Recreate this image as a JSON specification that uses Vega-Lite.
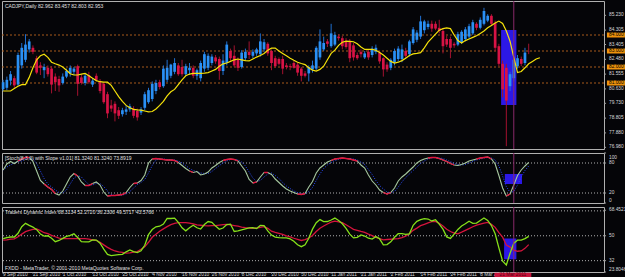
{
"$schema": "https://vega.github.io/schema/vega-lite/v6.json",
"background": "#050508",
"padding": 0,
"spacing": 2,
"config": {
 "view": {"stroke": "#b0b0b0", "strokeWidth": 1},
 "text": {"font": "Liberation Sans"}
},
"data": {"values": [
{"i":0,"o":80.62,"h":81.2,"l":80.5,"c":81.05,"m":80.5,"s":66,"r":null,"g":66,"tg":48,"tr":46.8},
{"i":1,"o":80.7,"h":81.4,"l":80.55,"c":81.2,"m":80.5,"s":78,"r":null,"g":72,"tg":48.7,"tr":47.1},
{"i":2,"o":81.15,"h":81.75,"l":80.85,"c":81.55,"m":80.5,"s":83,"r":null,"g":76,"tg":49.1,"tr":47.5},
{"i":3,"o":81.3,"h":81.45,"l":80.7,"c":80.85,"m":80.65,"s":79,"r":null,"g":80,"tg":49.1,"tr":47.8},
{"i":4,"o":80.9,"h":82.9,"l":80.8,"c":82.75,"m":80.8,"s":84,"r":84,"g":82,"tg":51.8,"tr":49.3},
{"i":5,"o":82.1,"h":83.5,"l":81.9,"c":83.2,"m":80.9,"s":88,"r":88,"g":84,"tg":56.5,"tr":51.2},
{"i":6,"o":82.45,"h":84.05,"l":82.3,"c":83.4,"m":80.9,"s":91,"r":91,"g":88,"tg":59,"tr":53},
{"i":7,"o":83.1,"h":83.75,"l":82.9,"c":83.6,"m":81.35,"s":91,"r":91,"g":90,"tg":57.5,"tr":53.9},
{"i":8,"o":83.2,"h":83.35,"l":82.8,"c":82.95,"m":81.95,"s":83,"r":null,"g":88,"tg":56.3,"tr":54.6},
{"i":9,"o":82.55,"h":82.7,"l":81.55,"c":81.65,"m":82.45,"s":64,"r":null,"g":79,"tg":54.4,"tr":54.9},
{"i":10,"o":82.1,"h":82.3,"l":81.5,"c":81.95,"m":82.7,"s":45,"r":null,"g":64,"tg":51.3,"tr":53.7},
{"i":11,"o":81.8,"h":82.2,"l":81.3,"c":82,"m":82.8,"s":38,"r":38,"g":49,"tg":49.8,"tr":52.2},
{"i":12,"o":81.95,"h":82.1,"l":81.4,"c":81.55,"m":82.6,"s":32,"r":32,"g":38,"tg":50,"tr":51.6},
{"i":13,"o":81.9,"h":82.05,"l":80.35,"c":80.9,"m":82.3,"s":27,"r":27,"g":32,"tg":48.2,"tr":50.3},
{"i":14,"o":81.4,"h":81.6,"l":80.5,"c":81.05,"m":82.2,"s":19,"r":19,"g":26,"tg":45.7,"tr":49.3},
{"i":15,"o":81.25,"h":81.45,"l":80.45,"c":80.85,"m":82.12,"s":16,"r":null,"g":21,"tg":46.6,"tr":48.3},
{"i":16,"o":81,"h":81.6,"l":80.9,"c":81.4,"m":82,"s":24,"r":null,"g":20,"tg":48.1,"tr":47.9},
{"i":17,"o":81.4,"h":81.9,"l":81.3,"c":81.75,"m":81.8,"s":38,"r":null,"g":26,"tg":49.5,"tr":47.9},
{"i":18,"o":81.6,"h":82.1,"l":81.4,"c":81.95,"m":81.58,"s":52,"r":null,"g":38,"tg":50.3,"tr":47.9},
{"i":19,"o":81.7,"h":82,"l":81.5,"c":81.9,"m":81.5,"s":59,"r":59,"g":50,"tg":51.4,"tr":47.9},
{"i":20,"o":82.05,"h":82.15,"l":80.2,"c":80.95,"m":81.5,"s":54,"r":54,"g":55,"tg":48.8,"tr":47.9},
{"i":21,"o":81.35,"h":81.55,"l":80.9,"c":81,"m":81.55,"s":42,"r":null,"g":52,"tg":45.8,"tr":47.9},
{"i":22,"o":81,"h":81.6,"l":80.85,"c":81.45,"m":81.6,"s":35,"r":35,"g":44,"tg":45.6,"tr":47.9},
{"i":23,"o":81.5,"h":81.7,"l":80.95,"c":81.05,"m":81.45,"s":35,"r":35,"g":37,"tg":45.6,"tr":47.6},
{"i":24,"o":80.9,"h":81.3,"l":80.75,"c":81.15,"m":81.3,"s":39,"r":39,"g":36,"tg":47,"tr":47.1},
{"i":25,"o":81.45,"h":81.6,"l":81.1,"c":81.2,"m":81.15,"s":42,"r":null,"g":39,"tg":46.9,"tr":46.6},
{"i":26,"o":81.1,"h":81.25,"l":80.35,"c":80.5,"m":81.08,"s":36,"r":null,"g":39,"tg":44.6,"tr":45.3},
{"i":27,"o":80.95,"h":81.05,"l":79.7,"c":79.8,"m":81.06,"s":22,"r":null,"g":33,"tg":40.4,"tr":43.4},
{"i":28,"o":80.3,"h":80.45,"l":78.8,"c":79.1,"m":81.05,"s":14,"r":14,"g":24,"tg":36.5,"tr":41.6},
{"i":29,"o":79.6,"h":79.95,"l":79.2,"c":79.4,"m":80.85,"s":15,"r":15,"g":17,"tg":35.6,"tr":40.2},
{"i":30,"o":79.7,"h":79.85,"l":78.6,"c":79.1,"m":80.5,"s":15,"r":15,"g":15,"tg":36,"tr":39},
{"i":31,"o":79.3,"h":79.5,"l":78.75,"c":78.95,"m":80.15,"s":16,"r":16,"g":15,"tg":36.3,"tr":38.4},
{"i":32,"o":79.05,"h":79.45,"l":78.9,"c":79.3,"m":79.85,"s":17,"r":17,"g":16,"tg":36.6,"tr":38},
{"i":33,"o":79.2,"h":79.6,"l":79,"c":79.35,"m":79.6,"s":21,"r":21,"g":18,"tg":38.4,"tr":37.5},
{"i":34,"o":79.35,"h":79.7,"l":79.2,"c":79.55,"m":79.45,"s":31,"r":null,"g":23,"tg":39.8,"tr":37.7},
{"i":35,"o":79.4,"h":79.55,"l":78.8,"c":78.95,"m":79.35,"s":39,"r":39,"g":30,"tg":38.6,"tr":38.2},
{"i":36,"o":79.25,"h":79.4,"l":78.65,"c":78.85,"m":79.32,"s":40,"r":40,"g":37,"tg":37.8,"tr":38.6},
{"i":37,"o":79.15,"h":79.5,"l":79,"c":79.35,"m":79.3,"s":45,"r":null,"g":41,"tg":39.2,"tr":40.3},
{"i":38,"o":79.45,"h":80.45,"l":79.3,"c":80.3,"m":79.25,"s":56,"r":null,"g":47,"tg":43.1,"tr":42},
{"i":39,"o":79.8,"h":80.7,"l":79.7,"c":80.55,"m":79.2,"s":80,"r":null,"g":60,"tg":50.8,"tr":45.3},
{"i":40,"o":80,"h":81.1,"l":79.85,"c":80.95,"m":79.22,"s":88,"r":88,"g":75,"tg":54.5,"tr":48.9},
{"i":41,"o":80.5,"h":81.2,"l":80.3,"c":81,"m":79.38,"s":89,"r":89,"g":86,"tg":56.5,"tr":51.1},
{"i":42,"o":81.05,"h":81.2,"l":80.6,"c":80.75,"m":79.6,"s":88,"r":88,"g":88,"tg":56.9,"tr":53.3},
{"i":43,"o":80.8,"h":82.1,"l":80.7,"c":81.9,"m":79.85,"s":87,"r":87,"g":88,"tg":58.5,"tr":55},
{"i":44,"o":81.2,"h":82.45,"l":81.05,"c":81.95,"m":80.2,"s":86,"r":86,"g":87,"tg":62.6,"tr":56.6},
{"i":45,"o":81.45,"h":82.2,"l":81.3,"c":82.15,"m":80.45,"s":86,"r":86,"g":86,"tg":62.5,"tr":58},
{"i":46,"o":81.7,"h":82.55,"l":81.55,"c":82.25,"m":80.6,"s":85,"r":85,"g":86,"tg":62.8,"tr":58.9},
{"i":47,"o":82.1,"h":82.25,"l":81.45,"c":81.55,"m":80.9,"s":81,"r":81,"g":84,"tg":59.7,"tr":59.5},
{"i":48,"o":82,"h":82.45,"l":81.4,"c":81.55,"m":81.2,"s":75,"r":null,"g":80,"tg":55.8,"tr":59.5},
{"i":49,"o":81.55,"h":82.2,"l":81.45,"c":82.05,"m":81.45,"s":69,"r":null,"g":75,"tg":53.6,"tr":59.5},
{"i":50,"o":81.8,"h":82.25,"l":81.5,"c":81.95,"m":81.56,"s":64,"r":64,"g":69,"tg":55.8,"tr":59.2},
{"i":51,"o":81.95,"h":82.1,"l":81.3,"c":81.45,"m":81.6,"s":61,"r":61,"g":65,"tg":57.6,"tr":58.6},
{"i":52,"o":81.45,"h":81.9,"l":81.2,"c":81.8,"m":81.6,"s":63,"r":null,"g":63,"tg":55.8,"tr":57.9},
{"i":53,"o":81.3,"h":82.4,"l":81.1,"c":82.25,"m":81.6,"s":56,"r":null,"g":60,"tg":54.9,"tr":57.6},
{"i":54,"o":81.9,"h":82.95,"l":81.7,"c":82.8,"m":81.62,"s":58,"r":null,"g":59,"tg":58.1,"tr":57.3},
{"i":55,"o":81.95,"h":82.85,"l":81.8,"c":82.7,"m":81.65,"s":62,"r":null,"g":59,"tg":60.3,"tr":57.2},
{"i":56,"o":82.25,"h":82.8,"l":82.1,"c":82.65,"m":81.75,"s":70,"r":null,"g":63,"tg":59.7,"tr":57.3},
{"i":57,"o":82.6,"h":82.75,"l":82.2,"c":82.35,"m":81.85,"s":75,"r":null,"g":69,"tg":57,"tr":57.4},
{"i":58,"o":82.5,"h":82.65,"l":81.2,"c":81.75,"m":82.05,"s":81,"r":null,"g":75,"tg":54.7,"tr":57.7},
{"i":59,"o":81.75,"h":82.8,"l":81.5,"c":82.4,"m":82.2,"s":85,"r":85,"g":80,"tg":55.6,"tr":58},
{"i":60,"o":82.25,"h":83.6,"l":82.1,"c":83.4,"m":82.25,"s":87,"r":87,"g":84,"tg":58.1,"tr":58.2},
{"i":61,"o":83,"h":83.15,"l":82.4,"c":82.55,"m":82.35,"s":88,"r":88,"g":87,"tg":58.4,"tr":57.8},
{"i":62,"o":82.7,"h":83.35,"l":82,"c":82.1,"m":82.45,"s":87,"r":87,"g":87,"tg":53.1,"tr":57.4},
{"i":63,"o":82.45,"h":82.6,"l":81.75,"c":81.95,"m":82.5,"s":84,"r":84,"g":86,"tg":53.5,"tr":56.9},
{"i":64,"o":82,"h":83.05,"l":81.9,"c":82.9,"m":82.45,"s":74,"r":null,"g":82,"tg":54.3,"tr":56.3},
{"i":65,"o":82.55,"h":83.15,"l":82.4,"c":82.95,"m":82.4,"s":64,"r":null,"g":74,"tg":55,"tr":55.9},
{"i":66,"o":82.95,"h":83.6,"l":82.5,"c":82.75,"m":82.38,"s":47,"r":null,"g":62,"tg":55.7,"tr":55.6},
{"i":67,"o":82.7,"h":83.1,"l":82.55,"c":82.95,"m":82.5,"s":40,"r":40,"g":50,"tg":55.8,"tr":55.4},
{"i":68,"o":82.85,"h":83.2,"l":82.7,"c":83.1,"m":82.62,"s":42,"r":42,"g":43,"tg":55.3,"tr":55.5},
{"i":69,"o":82.8,"h":84.1,"l":82.65,"c":83.6,"m":82.72,"s":52,"r":null,"g":45,"tg":57.5,"tr":56},
{"i":70,"o":83.1,"h":83.75,"l":82.95,"c":83.55,"m":82.85,"s":61,"r":61,"g":52,"tg":57.4,"tr":56.6},
{"i":71,"o":83.45,"h":83.55,"l":82.7,"c":82.85,"m":83.05,"s":61,"r":61,"g":58,"tg":53.5,"tr":55.4},
{"i":72,"o":83,"h":83.1,"l":81.8,"c":82.25,"m":83.18,"s":57,"r":null,"g":60,"tg":50.5,"tr":53.3},
{"i":73,"o":82.55,"h":82.7,"l":81.95,"c":82.05,"m":83.18,"s":48,"r":null,"g":55,"tg":49,"tr":52.4},
{"i":74,"o":82.5,"h":82.6,"l":82.1,"c":82.2,"m":83,"s":41,"r":null,"g":49,"tg":48.7,"tr":51.8},
{"i":75,"o":82.5,"h":82.7,"l":81.55,"c":81.9,"m":82.85,"s":34,"r":null,"g":41,"tg":48.5,"tr":51},
{"i":76,"o":82.1,"h":82.25,"l":81.85,"c":82,"m":82.7,"s":28,"r":null,"g":34,"tg":48.5,"tr":50},
{"i":77,"o":82.05,"h":82.2,"l":81.8,"c":82,"m":82.55,"s":24,"r":null,"g":29,"tg":47.7,"tr":49.2},
{"i":78,"o":82.25,"h":82.4,"l":81.9,"c":81.95,"m":82.42,"s":21,"r":null,"g":24,"tg":46,"tr":48.2},
{"i":79,"o":82.15,"h":82.25,"l":81.45,"c":81.65,"m":82.3,"s":18,"r":18,"g":21,"tg":43.5,"tr":47.4},
{"i":80,"o":81.9,"h":82,"l":81.1,"c":81.45,"m":82.22,"s":17,"r":17,"g":19,"tg":42.1,"tr":46.6},
{"i":81,"o":81.6,"h":81.75,"l":81.35,"c":81.45,"m":82.15,"s":19,"r":19,"g":18,"tg":43.5,"tr":47.2},
{"i":82,"o":81.6,"h":82.1,"l":81.1,"c":82,"m":81.95,"s":32,"r":null,"g":23,"tg":48.2,"tr":48.4},
{"i":83,"o":81.85,"h":82.4,"l":81.65,"c":82.1,"m":81.8,"s":43,"r":null,"g":31,"tg":54.8,"tr":50.2},
{"i":84,"o":81.9,"h":83.3,"l":81.8,"c":83.2,"m":81.75,"s":60,"r":null,"g":45,"tg":59.5,"tr":53.1},
{"i":85,"o":82.6,"h":84.35,"l":82.45,"c":83.6,"m":81.85,"s":70,"r":null,"g":58,"tg":61.7,"tr":55.4},
{"i":86,"o":83.1,"h":83.9,"l":83,"c":83.5,"m":82.05,"s":76,"r":null,"g":69,"tg":60.2,"tr":57.1},
{"i":87,"o":83.6,"h":83.75,"l":83.25,"c":83.45,"m":82.45,"s":82,"r":null,"g":76,"tg":60.3,"tr":58.5},
{"i":88,"o":83.3,"h":84.7,"l":83.2,"c":84.1,"m":82.85,"s":85,"r":85,"g":81,"tg":61.4,"tr":59.8},
{"i":89,"o":83.4,"h":84.2,"l":83.3,"c":84,"m":83.05,"s":88,"r":88,"g":85,"tg":62.8,"tr":60.6},
{"i":90,"o":83.9,"h":84.05,"l":83.65,"c":83.8,"m":83.35,"s":89,"r":89,"g":87,"tg":61,"tr":60.1},
{"i":91,"o":83.8,"h":83.95,"l":83.1,"c":83.3,"m":83.55,"s":90,"r":90,"g":89,"tg":58.7,"tr":59.5},
{"i":92,"o":83.6,"h":83.8,"l":83.15,"c":83.25,"m":83.62,"s":89,"r":89,"g":89,"tg":55.4,"tr":58},
{"i":93,"o":83.6,"h":83.75,"l":82.3,"c":82.55,"m":83.6,"s":88,"r":88,"g":89,"tg":51.2,"tr":56.3},
{"i":94,"o":83.35,"h":83.5,"l":82.4,"c":82.6,"m":83.58,"s":86,"r":86,"g":88,"tg":48.5,"tr":54.6},
{"i":95,"o":82.75,"h":82.9,"l":82.45,"c":82.55,"m":83.45,"s":84,"r":84,"g":86,"tg":48.9,"tr":53.9},
{"i":96,"o":82.95,"h":83.1,"l":82.6,"c":82.8,"m":83.25,"s":76,"r":null,"g":82,"tg":50.6,"tr":53.1},
{"i":97,"o":82.6,"h":83,"l":82.5,"c":82.85,"m":83.1,"s":70,"r":null,"g":77,"tg":49.8,"tr":52.4},
{"i":98,"o":82.95,"h":83.1,"l":82.45,"c":82.6,"m":83.1,"s":56,"r":null,"g":67,"tg":48.2,"tr":51.2},
{"i":99,"o":82.75,"h":83.3,"l":82.6,"c":83.15,"m":83.1,"s":44,"r":null,"g":57,"tg":47.6,"tr":50.1},
{"i":100,"o":82.95,"h":83.4,"l":82.8,"c":83.2,"m":83.05,"s":36,"r":null,"g":45,"tg":49.4,"tr":48.8},
{"i":101,"o":82.9,"h":83,"l":82.2,"c":82.35,"m":82.9,"s":26,"r":null,"g":35,"tg":47.8,"tr":47.9},
{"i":102,"o":82.55,"h":82.6,"l":81.4,"c":81.85,"m":82.75,"s":21,"r":21,"g":28,"tg":43.4,"tr":47},
{"i":103,"o":82.15,"h":82.3,"l":81.7,"c":81.85,"m":82.55,"s":18,"r":18,"g":22,"tg":43.6,"tr":47.3},
{"i":104,"o":81.95,"h":82.55,"l":81.8,"c":82.45,"m":82.35,"s":21,"r":21,"g":20,"tg":45.6,"tr":47.5},
{"i":105,"o":82.3,"h":83.15,"l":82.1,"c":83,"m":82.25,"s":30,"r":null,"g":23,"tg":48.9,"tr":47.7},
{"i":106,"o":82.5,"h":83.3,"l":82.35,"c":83.15,"m":82.3,"s":44,"r":null,"g":32,"tg":51.5,"tr":47.9},
{"i":107,"o":82.5,"h":83.4,"l":82.3,"c":83.1,"m":82.4,"s":52,"r":null,"g":42,"tg":51.6,"tr":48.7},
{"i":108,"o":83,"h":83.2,"l":82.55,"c":82.7,"m":82.55,"s":58,"r":null,"g":51,"tg":51,"tr":49.7},
{"i":109,"o":82.8,"h":83.7,"l":82.65,"c":83.6,"m":82.72,"s":65,"r":null,"g":58,"tg":51.4,"tr":51.5},
{"i":110,"o":83.5,"h":84.5,"l":83.4,"c":84.35,"m":82.82,"s":72,"r":null,"g":65,"tg":57.6,"tr":53.9},
{"i":111,"o":83.7,"h":84.3,"l":83.55,"c":84.15,"m":82.85,"s":80,"r":null,"g":72,"tg":60.4,"tr":55.5},
{"i":112,"o":83.9,"h":85.2,"l":83.75,"c":84.85,"m":82.9,"s":85,"r":null,"g":79,"tg":61.6,"tr":57.3},
{"i":113,"o":84.3,"h":84.95,"l":84.1,"c":84.85,"m":83.2,"s":88,"r":null,"g":84,"tg":62.4,"tr":58.3},
{"i":114,"o":84.5,"h":84.9,"l":84.35,"c":84.7,"m":83.55,"s":90,"r":90,"g":88,"tg":62.1,"tr":59.3},
{"i":115,"o":84.7,"h":84.9,"l":84.2,"c":84.4,"m":83.8,"s":91,"r":91,"g":90,"tg":60.7,"tr":60.2},
{"i":116,"o":84.7,"h":84.85,"l":84.3,"c":84.4,"m":84.05,"s":91,"r":91,"g":91,"tg":61.6,"tr":60.4},
{"i":117,"o":84.45,"h":84.95,"l":84.1,"c":84.25,"m":84.3,"s":89,"r":89,"g":90,"tg":58.4,"tr":59},
{"i":118,"o":84.25,"h":84.4,"l":82.85,"c":83.3,"m":84.4,"s":86,"r":86,"g":89,"tg":54.8,"tr":57.1},
{"i":119,"o":83.75,"h":83.95,"l":83.25,"c":83.4,"m":84.44,"s":83,"r":83,"g":86,"tg":49.2,"tr":54.7},
{"i":120,"o":83.75,"h":83.9,"l":82.55,"c":83.2,"m":84.4,"s":79,"r":79,"g":83,"tg":48.1,"tr":53.1},
{"i":121,"o":83.45,"h":83.55,"l":83.2,"c":83.35,"m":84,"s":76,"r":76,"g":79,"tg":51.2,"tr":52},
{"i":122,"o":83.4,"h":84.2,"l":83.3,"c":84.05,"m":83.65,"s":75,"r":null,"g":77,"tg":54.6,"tr":51.4},
{"i":123,"o":83.55,"h":84.3,"l":83.45,"c":84.2,"m":83.5,"s":77,"r":null,"g":76,"tg":57.1,"tr":52.6},
{"i":124,"o":83.75,"h":84.5,"l":83.6,"c":84.35,"m":83.65,"s":80,"r":null,"g":77,"tg":58.7,"tr":53.9},
{"i":125,"o":83.9,"h":84.7,"l":83.8,"c":84.55,"m":83.75,"s":84,"r":null,"g":80,"tg":60.5,"tr":55.2},
{"i":126,"o":84.1,"h":84.95,"l":84,"c":84.8,"m":83.85,"s":86,"r":null,"g":83,"tg":59,"tr":56.5},
{"i":127,"o":84.7,"h":84.8,"l":84.3,"c":84.45,"m":83.95,"s":88,"r":88,"g":86,"tg":59.2,"tr":57.7},
{"i":128,"o":84.45,"h":85.1,"l":84.35,"c":84.95,"m":84.1,"s":90,"r":90,"g":88,"tg":61,"tr":58.4},
{"i":129,"o":84.7,"h":85.7,"l":84.6,"c":85.5,"m":84.25,"s":91,"r":91,"g":90,"tg":62.8,"tr":59.1},
{"i":130,"o":84.9,"h":85.3,"l":84.8,"c":85.2,"m":84.45,"s":92,"r":92,"g":91,"tg":61.1,"tr":59.7},
{"i":131,"o":85.2,"h":85.3,"l":84.6,"c":84.7,"m":84.6,"s":88,"r":88,"g":90,"tg":57.4,"tr":58.3},
{"i":132,"o":84.75,"h":84.9,"l":83,"c":83.2,"m":84.75,"s":78,"r":null,"g":86,"tg":51.4,"tr":56.1},
{"i":133,"o":83.3,"h":83.45,"l":82.05,"c":82.2,"m":84.87,"s":55,"r":null,"g":74,"tg":41.2,"tr":52.3},
{"i":134,"o":82.2,"h":82.4,"l":80.1,"c":80.6,"m":84.72,"s":30,"r":null,"g":54,"tg":31.6,"tr":49},
{"i":135,"o":81.95,"h":82.2,"l":77.05,"c":79.9,"m":84.25,"s":14,"r":14,"g":33,"tg":28.9,"tr":43.3},
{"i":136,"o":80.8,"h":81.7,"l":80.5,"c":81.55,"m":83.6,"s":18,"r":18,"g":21,"tg":37.4,"tr":41.8},
{"i":137,"o":81.3,"h":82.55,"l":81.1,"c":82.45,"m":82.6,"s":36,"r":null,"g":23,"tg":44.6,"tr":39.6},
{"i":138,"o":82.05,"h":82.75,"l":81.9,"c":82.55,"m":81.65,"s":55,"r":null,"g":36,"tg":46.8,"tr":38.8},
{"i":139,"o":82.5,"h":82.65,"l":82.05,"c":82.2,"m":81.72,"s":66,"r":null,"g":52,"tg":46.8,"tr":39},
{"i":140,"o":82.25,"h":83.2,"l":82.1,"c":82.9,"m":81.95,"s":74,"r":null,"g":65,"tg":47.9,"tr":40.9},
{"i":141,"o":82.962,"h":83.457,"l":82.803,"c":82.953,"m":82.2,"s":81.324,"r":null,"g":73.892,"tg":49.572,"tr":43.577},
{"i":142,"m":82.35},
{"i":143,"m":82.5},
{"i":144,"m":82.58}
]},
"vconcat": [
{
 "width": 602, "height": 148,
 "layer": [
  {"data": {"values": [{"p":84},{"p":83},{"p":82},{"p":81}]},
   "mark": {"type": "rule", "color": "#a85a1a", "strokeDash": [2,2], "strokeWidth": 1},
   "encoding": {"y": {"field": "p", "type": "quantitative", "scale": {"domain": [76.875, 86.125], "nice": false, "zero": false}, "axis": null}}},
  {"data": {"values": [{"x1": 133.6, "x2": 137.7, "y1": 79.63, "y2": 84.31}]},
   "mark": {"type": "rect", "color": "#2c18e6"},
   "encoding": {"x": {"field": "x1", "type": "quantitative", "scale": {"domain": [-0.3, 161.2], "nice": false, "zero": false}, "axis": null}, "x2": {"field": "x2"},
     "y": {"field": "y1", "type": "quantitative", "scale": {"domain": [76.875, 86.125], "nice": false, "zero": false}, "axis": null}, "y2": {"field": "y2"}}},
  {"mark": {"type": "rule", "strokeWidth": 1},
   "encoding": {"x": {"field": "i", "type": "quantitative", "scale": {"domain": [-0.3, 161.2], "nice": false, "zero": false}, "axis": null},
     "y": {"field": "l", "type": "quantitative", "scale": {"domain": [76.875, 86.125], "nice": false, "zero": false}, "axis": null}, "y2": {"field": "h"},
     "color": {"condition": {"test": "datum.c >= datum.o", "value": "#2070d0"}, "value": "#a3122f"}}},
  {"mark": {"type": "rule", "strokeWidth": 2.7},
   "encoding": {"x": {"field": "i", "type": "quantitative", "scale": {"domain": [-0.3, 161.2], "nice": false, "zero": false}, "axis": null},
     "y": {"field": "o", "type": "quantitative", "scale": {"domain": [76.875, 86.125], "nice": false, "zero": false}, "axis": null}, "y2": {"field": "c"},
     "color": {"condition": {"test": "datum.c >= datum.o", "value": "#2a90f5"}, "value": "#d81345"}}},
  {"mark": {"type": "line", "color": "#f5e20a", "strokeWidth": 1.2},
   "encoding": {"x": {"field": "i", "type": "quantitative", "scale": {"domain": [-0.3, 161.2], "nice": false, "zero": false}, "axis": null},
     "y": {"field": "m", "type": "quantitative", "scale": {"domain": [76.875, 86.125], "nice": false, "zero": false}, "axis": null}}},
  {"data": {"values": [{}]},
   "mark": {"type": "rule", "color": "#8a2a6a", "strokeWidth": 1},
   "encoding": {"x": {"datum": 137, "type": "quantitative", "scale": {"domain": [-0.3, 161.2], "nice": false, "zero": false}, "axis": null}}},
  {"data": {"values": [{"p":84},{"p":83},{"p":82},{"p":81}]},
   "mark": {"type": "tick", "orient": "horizontal", "size": 18, "thickness": 5, "color": "#ee920c", "opacity": 1},
   "encoding": {"x": {"datum": 164.4, "type": "quantitative", "scale": {"domain": [-0.3, 161.2], "nice": false, "zero": false}, "axis": null},
     "y": {"field": "p", "type": "quantitative", "scale": {"domain": [76.875, 86.125], "nice": false, "zero": false}, "axis": null}}},
  {"data": {"values": [{"p":84},{"p":83},{"p":82},{"p":81}]},
   "mark": {"type": "text", "align": "left", "baseline": "middle", "fontSize": 4.8, "color": "#000000"},
   "encoding": {"x": {"datum": 162.55, "type": "quantitative", "scale": {"domain": [-0.3, 161.2], "nice": false, "zero": false}, "axis": null},
     "y": {"field": "p", "type": "quantitative", "scale": {"domain": [76.875, 86.125], "nice": false, "zero": false}, "axis": null},
     "text": {"field": "p", "format": ".3f"}}},
  {"data": {"values": [{"v":85.23},{"v":84.305},{"v":83.405},{"v":82.48},{"v":81.555},{"v":80.63},{"v":79.73},{"v":78.805},{"v":77.88},{"v":76.98}]},
   "mark": {"type": "rule", "color": "#a0a0a0", "strokeWidth": 1},
   "encoding": {"x": {"datum": 161.2, "type": "quantitative", "scale": {"domain": [-0.3, 161.2], "nice": false, "zero": false}, "axis": null}, "x2": {"datum": 161.75},
     "y": {"field": "v", "type": "quantitative", "scale": {"domain": [76.875, 86.125], "nice": false, "zero": false}, "axis": null}}},
  {"data": {"values": [{"v":85.23},{"v":84.305},{"v":83.405},{"v":82.48},{"v":81.555},{"v":80.63},{"v":79.73},{"v":78.805},{"v":77.88},{"v":76.98}]},
   "mark": {"type": "text", "align": "left", "baseline": "middle", "fontSize": 4.8, "color": "#d8d8d8"},
   "encoding": {"x": {"datum": 162.55, "type": "quantitative", "scale": {"domain": [-0.3, 161.2], "nice": false, "zero": false}, "axis": null},
     "y": {"field": "v", "type": "quantitative", "scale": {"domain": [76.875, 86.125], "nice": false, "zero": false}, "axis": null},
     "text": {"field": "v", "format": ".3f"}}},
  {"data": {"values": [{}]},
   "mark": {"type": "text", "align": "left", "baseline": "middle", "fontSize": 5, "color": "#e0e0e0"},
   "encoding": {"x": {"datum": 0.5, "type": "quantitative", "scale": {"domain": [-0.3, 161.2], "nice": false, "zero": false}, "axis": null},
     "y": {"datum": 85.81, "type": "quantitative", "scale": {"domain": [76.875, 86.125], "nice": false, "zero": false}, "axis": null},
     "text": {"value": "CADJPY,Daily  82.962 83.457 82.803 82.953"}}}
 ]
},
{
 "width": 602, "height": 50,
 "layer": [
  {"data": {"values": [{"v":80},{"v":20}]},
   "mark": {"type": "rule", "color": "#b0b0b0", "strokeDash": [1,2], "strokeWidth": 1},
   "encoding": {"y": {"field": "v", "type": "quantitative", "scale": {"domain": [0, 100], "nice": false, "zero": false}, "axis": null}}},
  {"data": {"values": [{"x1": 134.6, "x2": 139.2, "y1": 38, "y2": 58}]},
   "mark": {"type": "rect", "color": "#2c18e6"},
   "encoding": {"x": {"field": "x1", "type": "quantitative", "scale": {"domain": [-0.3, 161.2], "nice": false, "zero": false}, "axis": null}, "x2": {"field": "x2"},
     "y": {"field": "y1", "type": "quantitative", "scale": {"domain": [0, 100], "nice": false, "zero": false}, "axis": null}, "y2": {"field": "y2"}}},
  {"mark": {"type": "line", "color": "#2a4dff", "strokeWidth": 1, "strokeDash": [1, 1.5]},
   "encoding": {"x": {"field": "i", "type": "quantitative", "scale": {"domain": [-0.3, 161.2], "nice": false, "zero": false}, "axis": null},
     "y": {"field": "g", "type": "quantitative", "scale": {"domain": [0, 100], "nice": false, "zero": false}, "axis": null}}},
  {"mark": {"type": "line", "color": "#a6c8a0", "strokeWidth": 1.1},
   "encoding": {"x": {"field": "i", "type": "quantitative", "scale": {"domain": [-0.3, 161.2], "nice": false, "zero": false}, "axis": null},
     "y": {"field": "s", "type": "quantitative", "scale": {"domain": [0, 100], "nice": false, "zero": false}, "axis": null}}},
  {"mark": {"type": "line", "color": "#e3143e", "strokeWidth": 1.3, "invalid": "break-paths-filter-domains"},
   "encoding": {"x": {"field": "i", "type": "quantitative", "scale": {"domain": [-0.3, 161.2], "nice": false, "zero": false}, "axis": null},
     "y": {"field": "r", "type": "quantitative", "scale": {"domain": [0, 100], "nice": false, "zero": false}, "axis": null}}},
  {"data": {"values": [{}]},
   "mark": {"type": "rule", "color": "#8a2a6a", "strokeWidth": 1},
   "encoding": {"x": {"datum": 137, "type": "quantitative", "scale": {"domain": [-0.3, 161.2], "nice": false, "zero": false}, "axis": null}}},
  {"data": {"values": [{"v":100},{"v":80},{"v":20},{"v":0}]},
   "mark": {"type": "rule", "color": "#a0a0a0", "strokeWidth": 1},
   "encoding": {"x": {"datum": 161.2, "type": "quantitative", "scale": {"domain": [-0.3, 161.2], "nice": false, "zero": false}, "axis": null}, "x2": {"datum": 161.75},
     "y": {"field": "v", "type": "quantitative", "scale": {"domain": [0, 100], "nice": false, "zero": false}, "axis": null}}},
  {"data": {"values": [{"v":80},{"v":20}]},
   "mark": {"type": "text", "align": "left", "baseline": "middle", "fontSize": 4.8, "color": "#d8d8d8"},
   "encoding": {"x": {"datum": 162.55, "type": "quantitative", "scale": {"domain": [-0.3, 161.2], "nice": false, "zero": false}, "axis": null},
     "y": {"field": "v", "type": "quantitative", "scale": {"domain": [0, 100], "nice": false, "zero": false}, "axis": null}, "text": {"field": "v"}}},
  {"data": {"values": [{"v":100}]},
   "mark": {"type": "text", "align": "left", "baseline": "top", "dy": 1.5, "fontSize": 4.8, "color": "#d8d8d8"},
   "encoding": {"x": {"datum": 162.55, "type": "quantitative", "scale": {"domain": [-0.3, 161.2], "nice": false, "zero": false}, "axis": null},
     "y": {"field": "v", "type": "quantitative", "scale": {"domain": [0, 100], "nice": false, "zero": false}, "axis": null}, "text": {"field": "v"}}},
  {"data": {"values": [{"v":0}]},
   "mark": {"type": "text", "align": "left", "baseline": "bottom", "dy": -0.5, "fontSize": 4.8, "color": "#d8d8d8"},
   "encoding": {"x": {"datum": 162.55, "type": "quantitative", "scale": {"domain": [-0.3, 161.2], "nice": false, "zero": false}, "axis": null},
     "y": {"field": "v", "type": "quantitative", "scale": {"domain": [0, 100], "nice": false, "zero": false}, "axis": null}, "text": {"field": "v"}}},
  {"data": {"values": [{}]},
   "mark": {"type": "text", "align": "left", "baseline": "middle", "fontSize": 5, "color": "#e0e0e0"},
   "encoding": {"x": {"datum": 0.5, "type": "quantitative", "scale": {"domain": [-0.3, 161.2], "nice": false, "zero": false}, "axis": null},
     "y": {"datum": 91, "type": "quantitative", "scale": {"domain": [0, 100], "nice": false, "zero": false}, "axis": null},
     "text": {"value": "[Stoch(8,3,3) with Slope v1.01] 81.3240 81.3240 73.8919"}}}
 ]
},
{
 "width": 602, "height": 65,
 "layer": [
  {"data": {"values": [{"v":68},{"v":50},{"v":32}]},
   "mark": {"type": "rule", "color": "#b0b0b0", "strokeDash": [1,2], "strokeWidth": 1},
   "encoding": {"y": {"field": "v", "type": "quantitative", "scale": {"domain": [23.8046, 70.8], "nice": false, "zero": false}, "axis": null}}},
  {"data": {"values": [{"x1": 134.4, "x2": 137.7, "y1": 33.1, "y2": 48}]},
   "mark": {"type": "rect", "color": "#2c18e6"},
   "encoding": {"x": {"field": "x1", "type": "quantitative", "scale": {"domain": [-0.3, 161.2], "nice": false, "zero": false}, "axis": null}, "x2": {"field": "x2"},
     "y": {"field": "y1", "type": "quantitative", "scale": {"domain": [23.8046, 70.8], "nice": false, "zero": false}, "axis": null}, "y2": {"field": "y2"}}},
  {"mark": {"type": "line", "color": "#d4143c", "strokeWidth": 1.3},
   "encoding": {"x": {"field": "i", "type": "quantitative", "scale": {"domain": [-0.3, 161.2], "nice": false, "zero": false}, "axis": null},
     "y": {"field": "tr", "type": "quantitative", "scale": {"domain": [23.8046, 70.8], "nice": false, "zero": false}, "axis": null}}},
  {"mark": {"type": "line", "color": "#86e01a", "strokeWidth": 1.3},
   "encoding": {"x": {"field": "i", "type": "quantitative", "scale": {"domain": [-0.3, 161.2], "nice": false, "zero": false}, "axis": null},
     "y": {"field": "tg", "type": "quantitative", "scale": {"domain": [23.8046, 70.8], "nice": false, "zero": false}, "axis": null}}},
  {"data": {"values": [{}]},
   "mark": {"type": "rule", "color": "#8a2a6a", "strokeWidth": 1},
   "encoding": {"x": {"datum": 137, "type": "quantitative", "scale": {"domain": [-0.3, 161.2], "nice": false, "zero": false}, "axis": null}}},
  {"data": {"values": [{"v":68.4521},{"v":50},{"v":32},{"v":23.8046}]},
   "mark": {"type": "rule", "color": "#a0a0a0", "strokeWidth": 1},
   "encoding": {"x": {"datum": 161.2, "type": "quantitative", "scale": {"domain": [-0.3, 161.2], "nice": false, "zero": false}, "axis": null}, "x2": {"datum": 161.75},
     "y": {"field": "v", "type": "quantitative", "scale": {"domain": [23.8046, 70.8], "nice": false, "zero": false}, "axis": null}}},
  {"data": {"values": [{"v":68.4521},{"v":50},{"v":32}]},
   "mark": {"type": "text", "align": "left", "baseline": "middle", "fontSize": 4.8, "color": "#d8d8d8"},
   "encoding": {"x": {"datum": 162.55, "type": "quantitative", "scale": {"domain": [-0.3, 161.2], "nice": false, "zero": false}, "axis": null},
     "y": {"field": "v", "type": "quantitative", "scale": {"domain": [23.8046, 70.8], "nice": false, "zero": false}, "axis": null}, "text": {"field": "v"}}},
  {"data": {"values": [{"v":23.8046}]},
   "mark": {"type": "text", "align": "left", "baseline": "bottom", "dy": -0.5, "fontSize": 4.8, "color": "#d8d8d8"},
   "encoding": {"x": {"datum": 162.55, "type": "quantitative", "scale": {"domain": [-0.3, 161.2], "nice": false, "zero": false}, "axis": null},
     "y": {"field": "v", "type": "quantitative", "scale": {"domain": [23.8046, 70.8], "nice": false, "zero": false}, "axis": null}, "text": {"field": "v"}}},
  {"data": {"values": [{}]},
   "mark": {"type": "text", "align": "left", "baseline": "middle", "fontSize": 5, "color": "#e0e0e0"},
   "encoding": {"x": {"datum": 0.5, "type": "quantitative", "scale": {"domain": [-0.3, 161.2], "nice": false, "zero": false}, "axis": null},
     "y": {"datum": 67.2, "type": "quantitative", "scale": {"domain": [23.8046, 70.8], "nice": false, "zero": false}, "axis": null},
     "text": {"value": "Traders Dynamic Index 68.3134 52.2720 36.2306 49.5717 43.5766"}}},
  {"data": {"values": [{}]},
   "mark": {"type": "text", "align": "left", "baseline": "middle", "fontSize": 5, "color": "#e0e0e0"},
   "encoding": {"x": {"datum": 0.5, "type": "quantitative", "scale": {"domain": [-0.3, 161.2], "nice": false, "zero": false}, "axis": null},
     "y": {"datum": 26.7, "type": "quantitative", "scale": {"domain": [23.8046, 70.8], "nice": false, "zero": false}, "axis": null},
     "text": {"value": "FXDD - MetaTrader, © 2001-2010 MetaQuotes Software Corp."}}},
  {"data": {"values": [{"d":0},{"d":8},{"d":16},{"d":24},{"d":32},{"d":40},{"d":48},{"d":56},{"d":64},{"d":72},{"d":80},{"d":88},{"d":96},{"d":104},{"d":112},{"d":120},{"d":128}]},
   "mark": {"type": "rule", "color": "#a0a0a0", "strokeWidth": 1},
   "encoding": {"x": {"field": "d", "type": "quantitative", "scale": {"domain": [-0.3, 161.2], "nice": false, "zero": false}, "axis": null},
     "y": {"datum": 23.8046, "type": "quantitative", "scale": {"domain": [23.8046, 70.8], "nice": false, "zero": false}, "axis": null}, "y2": {"datum": 22.6}}},
  {"data": {"values": [{"d":0,"t":"9 Sep 2010"},{"d":8,"t":"21 Sep 2010"},{"d":16,"t":"1 Oct 2010"},{"d":24,"t":"13 Oct 2010"},{"d":32,"t":"25 Oct 2010"},{"d":40,"t":"4 Nov 2010"},{"d":48,"t":"16 Nov 2010"},{"d":56,"t":"26 Nov 2010"},{"d":64,"t":"8 Dec 2010"},{"d":72,"t":"20 Dec 2010"},{"d":80,"t":"30 Dec 2010"},{"d":88,"t":"11 Jan 2011"},{"d":96,"t":"21 Jan 2011"},{"d":104,"t":"2 Feb 2011"},{"d":112,"t":"14 Feb 2011"},{"d":120,"t":"24 Feb 2011"},{"d":128,"t":"8 Mar 2011"}]},
   "mark": {"type": "text", "align": "left", "baseline": "middle", "fontSize": 4.8, "color": "#d8d8d8"},
   "encoding": {"x": {"field": "d", "type": "quantitative", "scale": {"domain": [-0.3, 161.2], "nice": false, "zero": false}, "axis": null},
     "y": {"datum": 21.5, "type": "quantitative", "scale": {"domain": [23.8046, 70.8], "nice": false, "zero": false}, "axis": null}, "text": {"field": "t"}}},
  {"data": {"values": [{}]},
   "mark": {"type": "rect", "color": "#c8143c"},
   "encoding": {"x": {"datum": 131.8, "type": "quantitative", "scale": {"domain": [-0.3, 161.2], "nice": false, "zero": false}, "axis": null}, "x2": {"datum": 141.7},
     "y": {"datum": 23.3, "type": "quantitative", "scale": {"domain": [23.8046, 70.8], "nice": false, "zero": false}, "axis": null}, "y2": {"datum": 18.2}}},
  {"data": {"values": [{}]},
   "mark": {"type": "text", "align": "center", "baseline": "middle", "fontSize": 4.8, "color": "#5a0010"},
   "encoding": {"x": {"datum": 136.75, "type": "quantitative", "scale": {"domain": [-0.3, 161.2], "nice": false, "zero": false}, "axis": null},
     "y": {"datum": 21.5, "type": "quantitative", "scale": {"domain": [23.8046, 70.8], "nice": false, "zero": false}, "axis": null},
     "text": {"value": "21 Mar 2011"}}}
 ]
}
]
}
